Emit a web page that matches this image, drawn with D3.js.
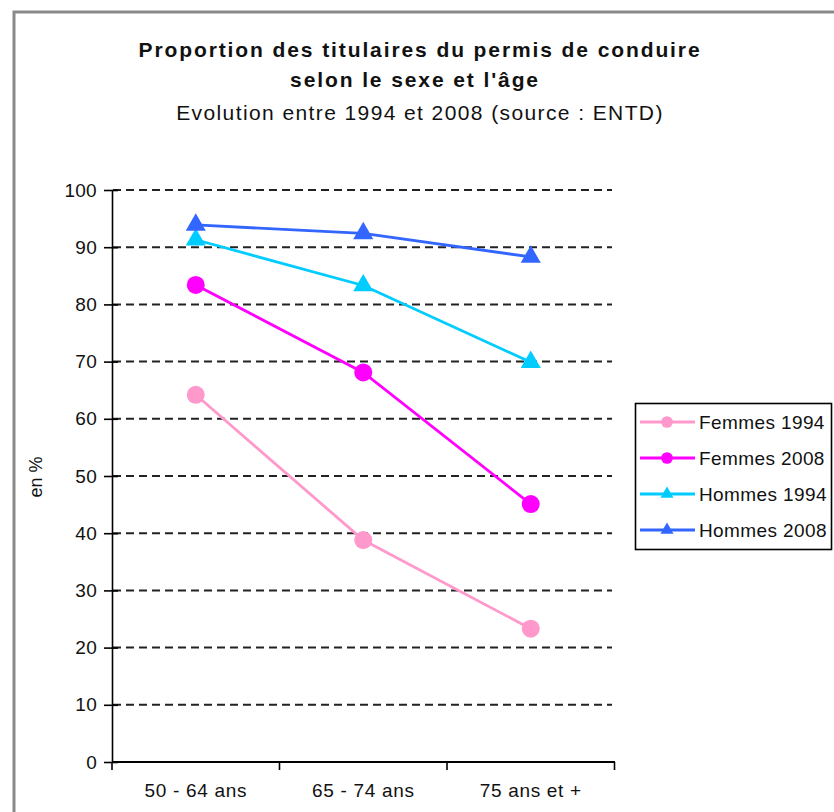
<!DOCTYPE html>
<html><head><meta charset="utf-8">
<script src="https://cdn.jsdelivr.net/npm/d3@7/dist/d3.min.js"></script>
<style>
html,body{margin:0;padding:0;background:#fff;}
svg{display:block;font-family:"Liberation Sans",Arial,sans-serif;}
</style></head>
<body>
<svg id="chart" width="834" height="812"></svg>
<script>
const categories = ["50 - 64 ans", "65 - 74 ans", "75 ans et +"];
const femmes1994 = [64.2, 38.8, 23.3];
const femmes2008 = [83.4, 68.1, 45.1];
const hommes1994 = [91.3, 83.3, 69.9];
const hommes2008 = [93.9, 92.4, 88.3];
const yTicks = [0, 10, 20, 30, 40, 50, 60, 70, 80, 90, 100];
const seriesNames = ["Femmes 1994", "Femmes 2008", "Hommes 1994", "Hommes 2008"];
const titleLines = ["Proportion des titulaires du permis de conduire", "selon le sexe et l'âge", "Evolution entre 1994 et 2008 (source : ENTD)"];
const yLabel = "en %";

const series = [
  {name: seriesNames[0], values: femmes1994, color: "#FF99CC", marker: "circle"},
  {name: seriesNames[1], values: femmes2008, color: "#FF00FF", marker: "circle"},
  {name: seriesNames[2], values: hommes1994, color: "#00CCFF", marker: "triangle"},
  {name: seriesNames[3], values: hommes2008, color: "#3366FF", marker: "triangle"}
];

const svg = d3.select("#chart");

// outer frame
svg.append("rect").attr("x", 14).attr("y", 12).attr("width", 900).attr("height", 900)
  .attr("fill", "#fff").attr("stroke", "#8a8a8a").attr("stroke-width", 3);

// titles
const tg = svg.append("g").attr("text-anchor", "middle").attr("fill", "#111");
tg.append("text").attr("x", 420).attr("y", 57).attr("font-size", 21).attr("font-weight", "bold")
  .attr("letter-spacing", 1.9).text(titleLines[0]);
tg.append("text").attr("x", 415).attr("y", 87).attr("font-size", 21).attr("font-weight", "bold")
  .attr("letter-spacing", 1.9).text(titleLines[1]);
tg.append("text").attr("x", 420).attr("y", 120).attr("font-size", 21)
  .attr("letter-spacing", 1.4).text(titleLines[2]);

const x = d3.scaleBand().domain(categories).range([112, 614.5]).padding(0);
const y = d3.scaleLinear().domain([0, 100]).range([762, 190]);

// gridlines
svg.append("g").selectAll("line").data(yTicks.filter(d => d > 0)).join("line")
  .attr("x1", 113).attr("x2", 612)
  .attr("y1", d => y(d)).attr("y2", d => y(d))
  .attr("stroke", "#222").attr("stroke-width", 2).attr("stroke-dasharray", "8,5");

// y axis
const yAxis = d3.axisLeft(y).tickValues(yTicks).tickSizeInner(8).tickSizeOuter(0).tickPadding(7);
const yg = svg.append("g").attr("transform", "translate(112,0)").call(yAxis);
yg.select(".domain").attr("stroke", "#000").attr("stroke-width", 1.6);
yg.selectAll(".tick line").attr("x1", 6).attr("stroke", "#000").attr("stroke-width", 1.6);
yg.selectAll(".tick text").attr("font-size", 19).attr("fill", "#111")
  .attr("font-family", '"Liberation Sans",Arial,sans-serif').attr("letter-spacing", 0.3);

// x axis
const xAxis = d3.axisBottom(x).tickSize(0).tickPadding(22);
const xg = svg.append("g").attr("transform", "translate(0,762)").call(xAxis);
xg.select(".domain").attr("stroke", "#000").attr("stroke-width", 2).attr("d", "M112,0H615");
xg.selectAll(".tick text").attr("font-size", 19).attr("fill", "#111")
  .attr("font-family", '"Liberation Sans",Arial,sans-serif').attr("letter-spacing", 0.7);
const boundaries = categories.map(c => x(c)).concat([x(categories[categories.length - 1]) + x.bandwidth()]);
xg.selectAll("line.bnd").data(boundaries).join("line").attr("class", "bnd")
  .attr("x1", d => d).attr("x2", d => d).attr("y1", 0).attr("y2", 8)
  .attr("stroke", "#000").attr("stroke-width", 1.6);

// y label
svg.append("text").attr("transform", "translate(42,477) rotate(-90)")
  .attr("text-anchor", "middle").attr("font-size", 18).attr("fill", "#111").text(yLabel);

const cx = c => x(c) + x.bandwidth() / 2;
const line = d3.line().x((d, i) => cx(categories[i])).y(d => y(d));

function drawMarker(g, type, color, px, py, scale) {
  if (type === "circle") {
    g.append("circle").attr("cx", px).attr("cy", py).attr("r", 9 * scale).attr("fill", color);
  } else {
    g.append("path").attr("d", d3.symbol(d3.symbolTriangle, 175 * scale * scale)())
      .attr("transform", `translate(${px},${py})`).attr("fill", color);
  }
}

series.forEach(s => {
  const g = svg.append("g");
  g.append("path").datum(s.values).attr("d", line).attr("fill", "none")
    .attr("stroke", s.color).attr("stroke-width", 2.8);
  s.values.forEach((v, i) => drawMarker(g, s.marker, s.color, cx(categories[i]), y(v), 1));
});

// legend
const lg = svg.append("g");
lg.append("rect").attr("x", 635.5).attr("y", 403.5).attr("width", 196).attr("height", 146)
  .attr("fill", "#fff").attr("stroke", "#000").attr("stroke-width", 1.6);
series.forEach((s, i) => {
  const ry = 422 + i * 36;
  lg.append("line").attr("x1", 640).attr("x2", 695).attr("y1", ry).attr("y2", ry)
    .attr("stroke", s.color).attr("stroke-width", 3);
  drawMarker(lg, s.marker, s.color, 667, ry, 0.65);
  lg.append("text").attr("x", 699).attr("y", ry + 7).attr("font-size", 19).attr("fill", "#111")
    .attr("letter-spacing", 0.4).text(s.name);
});
</script>
</body></html>
